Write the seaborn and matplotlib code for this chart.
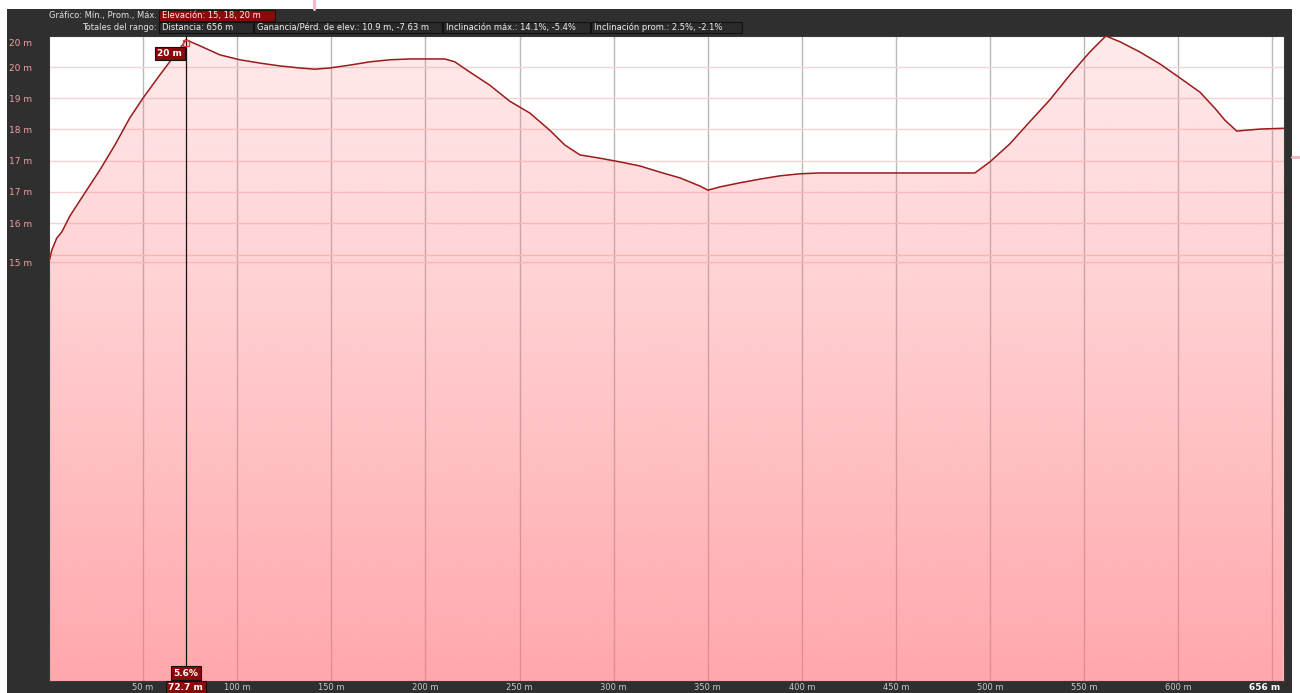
import numpy as np
import matplotlib
matplotlib.use("Agg")
import matplotlib.pyplot as plt
import seaborn as sns
from matplotlib.patches import Rectangle
from matplotlib.lines import Line2D

# ---- elevation profile (distance in m, elevation in m) ----
distance_m = [0.0, 1.5, 4.1, 6.8, 11.1, 19.0, 27.0, 35.0, 42.9, 50.0, 58.9, 66.9,
              71.1, 72.7, 80.2, 90.8, 101.4, 112.0, 122.7, 133.3, 141.2, 149.2,
              159.8, 170.5, 181.1, 191.7, 202.4, 210.3, 215.6, 223.6, 234.2, 244.8,
              255.5, 266.1, 274.1, 282.1, 292.7, 303.3, 314.0, 324.6, 335.2, 345.9,
              350.1, 356.5, 367.1, 377.7, 388.4, 399.0, 409.6, 420.2, 452.1, 491.9,
              499.9, 510.5, 521.1, 531.7, 542.4, 553.0, 561.5, 569.0, 579.6, 590.2,
              600.8, 611.5, 619.4, 624.7, 631.1, 635.4, 643.4, 656.0]
elevation_m = [14.91, 15.20, 15.49, 15.64, 16.03, 16.59, 17.15, 17.76, 18.42, 18.91,
               19.47, 19.96, 20.21, 20.33, 20.18, 19.96, 19.84, 19.76, 19.69, 19.64,
               19.61, 19.64, 19.71, 19.79, 19.84, 19.86, 19.86, 19.86, 19.79, 19.54,
               19.22, 18.83, 18.54, 18.12, 17.76, 17.52, 17.44, 17.35, 17.25, 17.10,
               16.96, 16.76, 16.66, 16.74, 16.84, 16.93, 17.01, 17.06, 17.08, 17.08,
               17.08, 17.08, 17.35, 17.79, 18.33, 18.86, 19.47, 20.03, 20.42, 20.28,
               20.03, 19.74, 19.40, 19.05, 18.66, 18.37, 18.10, 18.12, 18.15, 18.17]

total_distance = 656
y_limits = [4.69, 20.42]

x_ticks = [50, 100, 150, 200, 250, 300, 350, 400, 450, 500, 550, 600]
x_tick_labels = ["50 m", "100 m", "150 m", "200 m", "250 m", "300 m", "350 m",
                 "400 m", "450 m", "500 m", "550 m", "600 m"]
x_grid = [50, 100, 150, 200, 250, 300, 350, 400, 450, 500, 550, 600, 650]
end_label = "656 m"

y_ticks = [20.26, 19.66, 18.90, 18.14, 17.38, 16.62, 15.85, 14.90]
y_tick_labels = ["20 m", "20 m", "19 m", "18 m", "17 m", "17 m", "16 m", "15 m"]
y_grid = [19.66, 18.90, 18.14, 17.38, 16.62, 15.85, 15.09, 14.90]

cursor_distance = 72.7
cursor_grade = "5.6%"

header_row1_title = "Gráfico: Mín., Prom., Máx."
header_row1_box = "Elevación: 15, 18, 20 m"
header_row2_title = "Totales del rango:"
header_row2_boxes = ["Distancia: 656 m",
                     "Ganancia/Pérd. de elev.: 10.9 m, -7.63 m",
                     "Inclinación máx.: 14.1%, -5.4%",
                     "Inclinación prom.: 2.5%, -2.1%"]

# ---- styling ----
sns.set_theme(style="white")
plt.rcParams["font.family"] = ["DejaVu Sans"]

W, H = 1300, 693
PANEL = "#2f2f2f"
DARK_RED = "#8a0a0a"
LINE_RED = "#9b1b1b"


def fx(px):
    return px / W


def fy(py):
    return 1 - py / H


fig = plt.figure(figsize=(W / 100, H / 100), dpi=100, facecolor="white")

# dark application panel
fig.add_artist(Rectangle((fx(7), 0), fx(1292) - fx(7), fy(9), transform=fig.transFigure,
                         facecolor=PANEL, edgecolor="none", zorder=0))
# crosshair remnants outside the panel
fig.add_artist(Line2D([fx(314), fx(314)], [fy(0), fy(9)], transform=fig.transFigure,
                      color="#f1b9c1", lw=2.2, zorder=1))
fig.add_artist(Line2D([fx(1292), fx(1300)], [fy(157), fy(157)], transform=fig.transFigure,
                      color="#f1b9c1", lw=2.2, zorder=1))

# ---- header rows ----
hdr_fs = 6.0
fig.text(fx(157), fy(15.5), header_row1_title, ha="right", va="center",
         fontsize=hdr_fs, color="#e2e2e2", fontweight="medium")
fig.add_artist(Rectangle((fx(159), fy(21)), fx(275) - fx(159), fy(10) - fy(21),
                         transform=fig.transFigure, facecolor=DARK_RED,
                         edgecolor="#151515", lw=0.8))
fig.text(fx(162), fy(15.5), header_row1_box, ha="left", va="center",
         fontsize=hdr_fs, color="#f4f4f4")

fig.text(fx(157), fy(27.5), header_row2_title, ha="right", va="center",
         fontsize=hdr_fs, color="#e2e2e2")
box_edges = [(159, 253), (254, 442), (443, 590), (591, 742)]
for (x0, x1), txt in zip(box_edges, header_row2_boxes):
    fig.add_artist(Rectangle((fx(x0), fy(33)), fx(x1) - fx(x0), fy(22) - fy(33),
                             transform=fig.transFigure, facecolor="#2a2a2a",
                             edgecolor="#121212", lw=0.8))
    fig.text(fx(x0 + 3), fy(27.5), txt, ha="left", va="center",
             fontsize=hdr_fs, color="#f0f0f0")

# ---- plot area ----
ax = fig.add_axes([fx(49), fy(681), fx(1283.7) - fx(49), fy(36) - fy(681)])
ax.set_facecolor("white")

for xv in x_grid:
    ax.axvline(xv, color="#b9b9b9", lw=1.0, zorder=1)
for yv in y_grid:
    ax.axhline(yv, color="#f9d2d5", lw=1.0, zorder=1)

# vertical gradient fill under the profile
n = 256
frac = np.linspace(0, 1, n).reshape(-1, 1)
rgba = np.zeros((n, 1, 4))
rgba[..., 0] = 1.0
rgba[..., 1] = 110 / 255
rgba[..., 2] = 117 / 255
rgba[..., 3] = 0.14 + 0.46 * frac[:, 0:1]
img = ax.imshow(rgba, extent=[0, total_distance, y_limits[0], y_limits[1]],
                aspect="auto", origin="upper", zorder=2, interpolation="bilinear")
area = ax.fill_between(distance_m, elevation_m, y_limits[0], facecolor="none",
                       edgecolor="none", lw=0)
img.set_clip_path(area.get_paths()[0], transform=ax.transData)

sns.lineplot(x=distance_m, y=elevation_m, ax=ax, color=LINE_RED, lw=1.1, zorder=4)

ax.set_xlim(0, total_distance)
ax.set_ylim(*y_limits)

ax.set_xticks(x_ticks, x_tick_labels)
ax.set_yticks(y_ticks, y_tick_labels)
ax.tick_params(axis="x", length=0, pad=1.5, labelsize=6, labelcolor="#c8c8c8")
ax.tick_params(axis="y", length=0, pad=28.8, labelsize=6.5, labelcolor="#f2a2a2")
for lbl in ax.get_yticklabels():
    lbl.set_horizontalalignment("left")
ax.set_xlabel("")
ax.set_ylabel("")
for sp in ax.spines.values():
    sp.set_color("#3a3a3a")
    sp.set_linewidth(0.8)

# ---- cursor ----
cursor_elev = float(np.interp(cursor_distance, distance_m, elevation_m))
ax.axvline(cursor_distance, ymin=-0.02, ymax=1, color="#141414", lw=0.9, zorder=5,
           clip_on=False)
ax.plot([cursor_distance], [cursor_elev - 0.07], marker="s", ms=4.5, mfc="none",
        mec="#e23a3a", mew=0.9, zorder=6)

box_kw = dict(boxstyle="square,pad=0.25", facecolor=DARK_RED, edgecolor="#111111", lw=0.8)
ax.annotate(f"{round(cursor_elev)} m", xy=(cursor_distance, cursor_elev),
            xytext=(-16, -14), textcoords="offset pixels", ha="center", va="center",
            fontsize=6.5, fontweight="bold", color="white", bbox=box_kw, zorder=7)
ax.annotate(cursor_grade, xy=(cursor_distance, 0), xycoords=("data", "axes fraction"),
            xytext=(0, 8), textcoords="offset pixels", ha="center", va="center",
            fontsize=6.5, fontweight="bold", color="white", bbox=box_kw, zorder=7,
            annotation_clip=False)
ax.annotate(f"{cursor_distance} m", xy=(cursor_distance, 0),
            xycoords=("data", "axes fraction"), xytext=(0, -6.5),
            textcoords="offset pixels", ha="center", va="center", fontsize=6.5,
            fontweight="bold", color="white", bbox=box_kw, zorder=7,
            annotation_clip=False)

# total distance label at the right end of the axis
ax.annotate(end_label, xy=(total_distance, 0), xycoords=("data", "axes fraction"),
            xytext=(-3, -6.5), textcoords="offset pixels", ha="right", va="center",
            fontsize=6.5, fontweight="bold", color="white", annotation_clip=False)

fig.savefig("out.png", dpi=100, facecolor="white")
